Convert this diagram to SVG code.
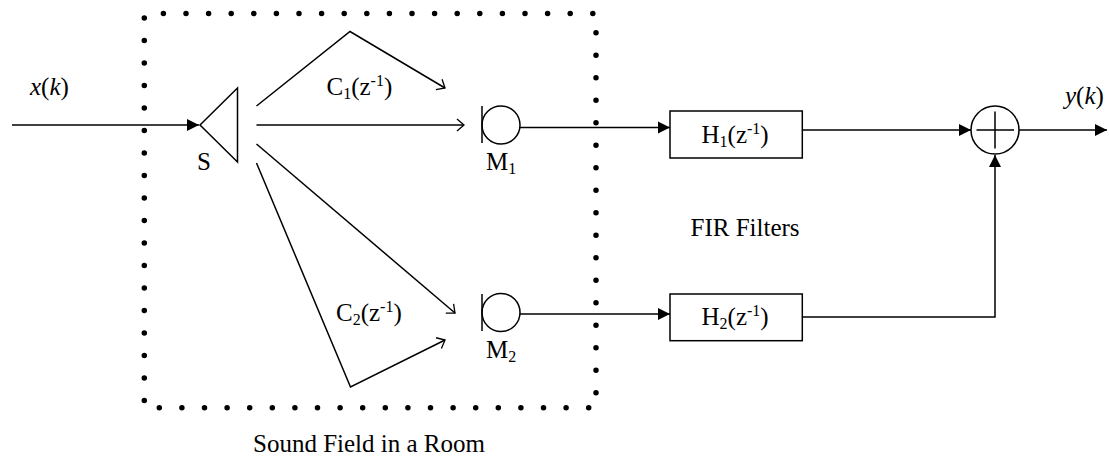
<svg xmlns="http://www.w3.org/2000/svg" width="1109" height="458" viewBox="0 0 1109 458">
<style>
.l{fill:none;stroke:#000;stroke-width:1.5}
.t{font-family:"Liberation Serif","Times New Roman",serif;font-size:25px;fill:#000}
.i{font-style:italic}
.s{font-size:16px}
.d{fill:none;stroke:#000;stroke-width:5.500;stroke-linecap:round;stroke-dasharray:0 22.5}
.h{stroke-dasharray:0 22.6}
</style>
<defs>
<marker id="f" markerUnits="userSpaceOnUse" markerWidth="14" markerHeight="14" refX="13" refY="7" orient="auto"><path d="M1 1L13 7L1 13Z" fill="#000"/></marker>
<marker id="o" markerUnits="userSpaceOnUse" markerWidth="12" markerHeight="16" refX="10" refY="8" orient="auto"><path d="M3 2L10 8L3 14" fill="none" stroke="#000" stroke-width="1.3"/></marker>
</defs>
<rect width="1109" height="458" fill="#fff"/>
<g id="room">
<path class="d h" d="M163.400 13.500H594"/>
<path class="d" d="M144.300 18V401"/>
<path class="d" d="M596 32.700V393"/>
<path class="d h" d="M159.300 407.700H590"/>
<text class="t" x="253" y="451.500">Sound Field in a Room</text>
</g>
<g id="connectors">
<path class="l" d="M12 125H199" marker-end="url(#f)"/>
<path class="l" d="M256.500 106L350 31.500L445 88" marker-end="url(#o)"/>
<path class="l" d="M256.500 125H464" marker-end="url(#o)"/>
<path class="l" d="M256.500 144L455 313" marker-end="url(#o)"/>
<path class="l" d="M256.500 163L350.500 387L445 340" marker-end="url(#o)"/>
<path class="l" d="M520 127.500H670" marker-end="url(#f)"/>
<path class="l" d="M520 314H670" marker-end="url(#f)"/>
<path class="l" d="M802 130H971" marker-end="url(#f)"/>
<path class="l" d="M802 317H995V155" marker-end="url(#f)"/>
<path class="l" d="M1019 130H1107" marker-end="url(#f)"/>
</g>
<g id="speaker">
<path class="l" d="M200 125L237.500 88V162Z"/>
<text class="t" x="197" y="170">S</text>
</g>
<g id="mic1">
<path class="l" d="M482 106V143"/><circle class="l" cx="501" cy="125" r="19"/>
<text class="t" x="486" y="170">M<tspan class="s" dy="4">1</tspan></text>
</g>
<g id="mic2">
<path class="l" d="M482 294V331"/><circle class="l" cx="501" cy="312.500" r="19"/>
<text class="t" x="486" y="358">M<tspan class="s" dy="4">2</tspan></text>
</g>
<g id="h1">
<rect class="l" x="670" y="111" width="132.300" height="47"/>
<text class="t" x="701.500" y="143">H<tspan class="s" dy="4">1</tspan><tspan dy="-4">(z</tspan><tspan class="s" dy="-9">-1</tspan><tspan dy="9">)</tspan></text>
</g>
<g id="h2">
<rect class="l" x="670" y="294" width="132.300" height="46.700"/>
<text class="t" x="701.500" y="325">H<tspan class="s" dy="4">2</tspan><tspan dy="-4">(z</tspan><tspan class="s" dy="-9">-1</tspan><tspan dy="9">)</tspan></text>
</g>
<g id="sum">
<circle class="l" cx="995" cy="130" r="24"/>
<path class="l" d="M976.500 130H1014M995 111.500V148.500"/>
</g>
<g id="labels">
<text class="t" x="326.500" y="95">C<tspan class="s" dy="4">1</tspan><tspan dy="-4">(z</tspan><tspan class="s" dy="-9">-1</tspan><tspan dy="9">)</tspan></text>
<text class="t" x="336" y="321">C<tspan class="s" dy="4">2</tspan><tspan dy="-4">(z</tspan><tspan class="s" dy="-9">-1</tspan><tspan dy="9">)</tspan></text>
<text class="t" x="690.500" y="236">FIR Filters</text>
<text class="t" x="30" y="94.500"><tspan class="i">x</tspan>(<tspan class="i">k</tspan>)</text>
<text class="t" x="1065" y="104"><tspan class="i">y</tspan>(<tspan class="i">k</tspan>)</text>
</g>
</svg>
